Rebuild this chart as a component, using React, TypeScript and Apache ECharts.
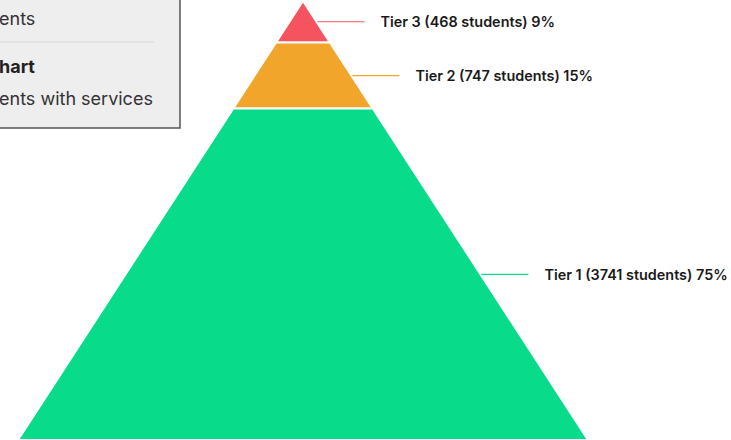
import React, { useEffect, useRef } from "react";
import * as echarts from "echarts";

const tiers = ["Tier 3", "Tier 2", "Tier 1"];
const students = [468, 747, 3741];
const percents = [9, 15, 75];
const tierColors = ["#F5535F", "#F2A52B", "#08DB8A"];
const boxLines = ["ents", "hart", "ents with services"];

export default function App() {
  const ref = useRef<HTMLDivElement>(null);
  useEffect(() => {
    document.body.style.margin = "0";
    const chart = echarts.init(ref.current!, null, { renderer: "svg" });
    const total = students.reduce((a, b) => a + b, 0);
    let acc = 0;
    const data = students.map((s, i) => {
      const start = acc;
      acc += s;
      return { value: [start, acc, i], name: tiers[i] };
    });
    const k = 285 / total; // half-width (px units) per student from apex
    const font = "Inter, 'Noto Sans', sans-serif";
    chart.setOption({
      animation: false,
      backgroundColor: "#ffffff",
      grid: { left: 0, right: 0, top: 1, bottom: 0, containLabel: false },
      xAxis: { type: "value", min: -303, max: 428, show: false },
      yAxis: { type: "value", min: 0, max: total, inverse: true, show: false },
      series: [
        {
          type: "custom",
          clip: false,
          data,
          renderItem: (params: any, api: any) => {
            const start = api.value(0);
            const end = api.value(1);
            const i = api.value(2);
            const a = api.coord([-start * k, start]);
            const b = api.coord([start * k, start]);
            const c = api.coord([end * k, end]);
            const d = api.coord([-end * k, end]);
            const mid = (start + end) / 2;
            const e = api.coord([mid * k, mid]);
            return {
              type: "group",
              children: [
                {
                  type: "polygon",
                  shape: { points: [a, b, c, d] },
                  style: { fill: tierColors[i], stroke: "#ffffff", lineWidth: 2 },
                },
                {
                  type: "line",
                  shape: { x1: e[0] + 1, y1: e[1], x2: e[0] + 48, y2: e[1] },
                  style: { stroke: tierColors[i], lineWidth: 1.2 },
                },
                {
                  type: "text",
                  style: {
                    x: e[0] + 64,
                    y: e[1],
                    text: `${tiers[i]} (${students[i]} students) ${percents[i]}%`,
                    fill: "#1a1a1a",
                    fontSize: 14.4,
                    fontWeight: 600,
                    fontFamily: font,
                    verticalAlign: "middle",
                    align: "left",
                  },
                },
              ],
            };
          },
        },
      ],
      graphic: [
        {
          type: "rect",
          shape: { x: -10, y: -10, width: 190, height: 138 },
          style: { fill: "#eeeeee", stroke: "#555555", lineWidth: 1.5 },
          z: 100,
        },
        {
          type: "line",
          shape: { x1: 0, y1: 42, x2: 154, y2: 42 },
          style: { stroke: "#d6d6d6", lineWidth: 1 },
          z: 101,
        },
        {
          type: "text",
          x: -1,
          y: 18,
          style: { text: boxLines[0], fontSize: 18, fontFamily: font, fill: "#333333", verticalAlign: "middle" },
          z: 101,
        },
        {
          type: "text",
          x: -1,
          y: 66,
          style: { text: boxLines[1], fontSize: 18, fontWeight: 700, fontFamily: font, fill: "#222222", verticalAlign: "middle" },
          z: 101,
        },
        {
          type: "text",
          x: -1,
          y: 98,
          style: { text: boxLines[2], fontSize: 18, fontFamily: font, fill: "#333333", verticalAlign: "middle" },
          z: 101,
        },
      ],
    });
    return () => chart.dispose();
  }, []);
  return <div ref={ref} style={{ width: 731, height: 440 }} />;
}
